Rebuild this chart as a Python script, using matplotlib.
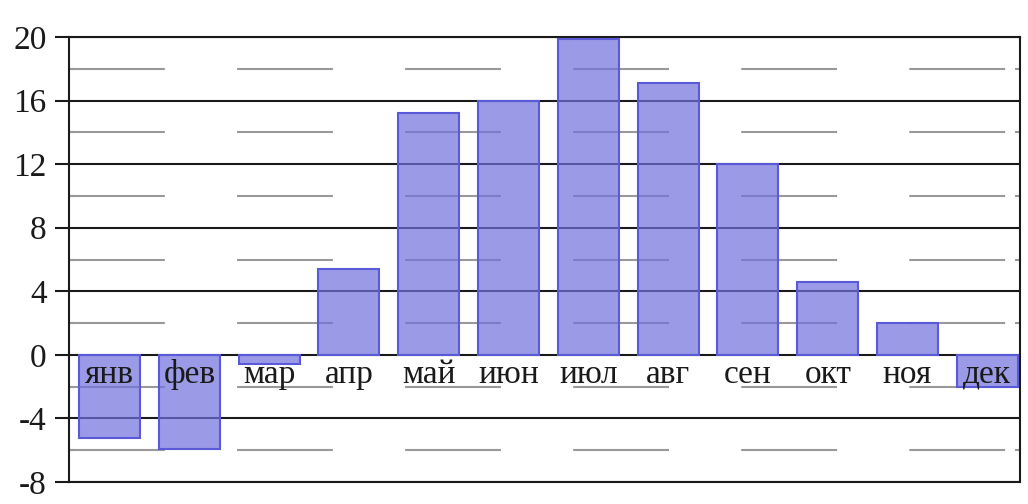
import matplotlib
matplotlib.use('Agg')
import matplotlib.pyplot as plt
from matplotlib.ticker import MultipleLocator

months = ['янв', 'фев', 'мар', 'апр', 'май', 'июн', 'июл', 'авг', 'сен', 'окт', 'ноя', 'дек']
temps = [-5.2, -5.9, -0.6, 5.4, 15.2, 16.0, 19.9, 17.1, 12.0, 4.6, 2.0, -2.0]
yticks = [-8, -4, 0, 4, 8, 12, 16, 20]

plt.rcParams['font.family'] = ['Liberation Serif', 'DejaVu Serif']
plt.rcParams['axes.unicode_minus'] = False
plt.rcParams['lines.scale_dashes'] = False

fig = plt.figure(figsize=(10.28, 5.04), dpi=100)
ax = fig.add_axes([69/1028, 1-482/504, (1020-69)/1028, (482-37)/504])

x = list(range(len(months)))
ax.bar(x, temps, width=0.765, facecolor=(0.44, 0.44, 0.87, 0.7),
       edgecolor='#5a5ad8', linewidth=1.5, zorder=3)

# подписи месяцев прямо под нулевой линией
for i, m in enumerate(months):
    ax.annotate(m, (i, 0), xytext=(0, -3), textcoords='offset points',
                ha='center', va='top', fontsize=24, color='#1a1a1a', zorder=4)

ax.set_xlim(-0.508, 11.41)
ax.set_ylim(-8, 20)
ax.set_xticks([])
ax.set_yticks(yticks)
ax.set_yticklabels([str(t) for t in yticks])
ax.yaxis.set_minor_locator(MultipleLocator(2))

ax.tick_params(axis='y', which='major', direction='out', length=10, width=1.5,
               color='#1a1a1a', labelsize=24, labelcolor='#1a1a1a', pad=6)
ax.tick_params(axis='y', which='minor', direction='in', length=3.5, width=1.5,
               color='#999999', left=True, right=True)

ax.grid(axis='y', which='major', color='#1a1a1a', linewidth=1.5, zorder=1)
ax.grid(axis='y', which='minor', color='#999999', linewidth=1.5,
        linestyle=(0, (69, 52)), zorder=1)
ax.set_axisbelow(True)

for s in ax.spines.values():
    s.set_color('#1a1a1a')
    s.set_linewidth(1.5)

plt.savefig('out.png', dpi=100)
